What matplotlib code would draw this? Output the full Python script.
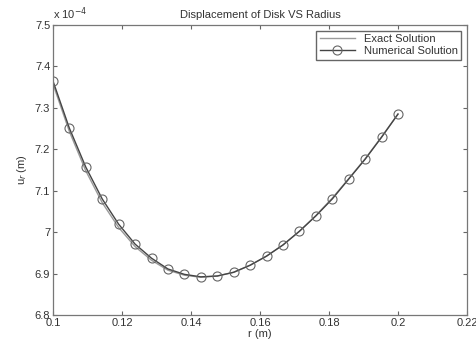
import numpy as np
import matplotlib.pyplot as plt
from matplotlib.ticker import FormatStrFormatter

plt.rcParams['font.family'] = ['Liberation Sans', 'DejaVu Sans']

# radius (m), 22 nodes between 0.1 and 0.2
r = [0.1, 0.10476, 0.10952, 0.11429, 0.11905, 0.12381, 0.12857, 0.13333,
     0.1381, 0.14286, 0.14762, 0.15238, 0.15714, 0.1619, 0.16667, 0.17143,
     0.17619, 0.18095, 0.18571, 0.19048, 0.19524, 0.2]
# displacement in units of 1e-4 m
u_num = [7.365, 7.251, 7.157, 7.080, 7.019, 6.971, 6.937, 6.911, 6.898, 6.892,
         6.894, 6.903, 6.920, 6.942, 6.969, 7.002, 7.039, 7.080, 7.128, 7.176,
         7.229, 7.285]
u_exact = [7.358, 7.243, 7.148, 7.071, 7.011, 6.965, 6.932, 6.908, 6.896, 6.891,
           6.894, 6.903, 6.920, 6.942, 6.969, 7.002, 7.040, 7.082, 7.129, 7.177,
           7.230, 7.285]

fig = plt.figure(figsize=(4.77, 3.48), dpi=100)
ax = fig.add_axes([0.111, 0.095, 0.868, 0.833])

txt = '#333333'
ax.plot(r, u_exact, color='#9a9a9a', lw=1.0, label='Exact Solution')
ax.plot(r, u_num, color='#444444', lw=1.0, marker='o', ms=6.5,
        mfc='none', mec='#666666', mew=0.8, label='Numerical Solution')

ax.set_xlim(0.1, 0.22)
ax.set_ylim(6.8, 7.5)
ax.set_xticks(np.arange(0.1, 0.2201, 0.02))
ax.set_yticks(np.arange(6.8, 7.501, 0.1))
ax.xaxis.set_major_formatter(FormatStrFormatter('%g'))
ax.yaxis.set_major_formatter(FormatStrFormatter('%g'))
ax.tick_params(direction='in', top=True, right=True, length=3, width=0.8,
               colors='#666666', labelcolor=txt, labelsize=8, pad=2)
for s in ax.spines.values():
    s.set_color('#777777')
    s.set_linewidth(0.9)

ax.set_title('Displacement of Disk VS Radius', fontsize=8, color=txt, pad=5)
ax.set_xlabel('r (m)', fontsize=8, color=txt, labelpad=1)
ax.set_ylabel('u$_r$ (m)', fontsize=8, color=txt, labelpad=4)
ax.text(0.0, 1.012, 'x 10$^{-4}$', transform=ax.transAxes, fontsize=8,
        color=txt, ha='left', va='bottom')

leg = ax.legend(loc='upper right', fontsize=8, fancybox=False, framealpha=1,
                edgecolor='#666666', handlelength=3.2, borderpad=0.3,
                labelspacing=0.2, borderaxespad=0.5)
for t in leg.get_texts():
    t.set_color(txt)

plt.savefig('out.png', dpi=100)
